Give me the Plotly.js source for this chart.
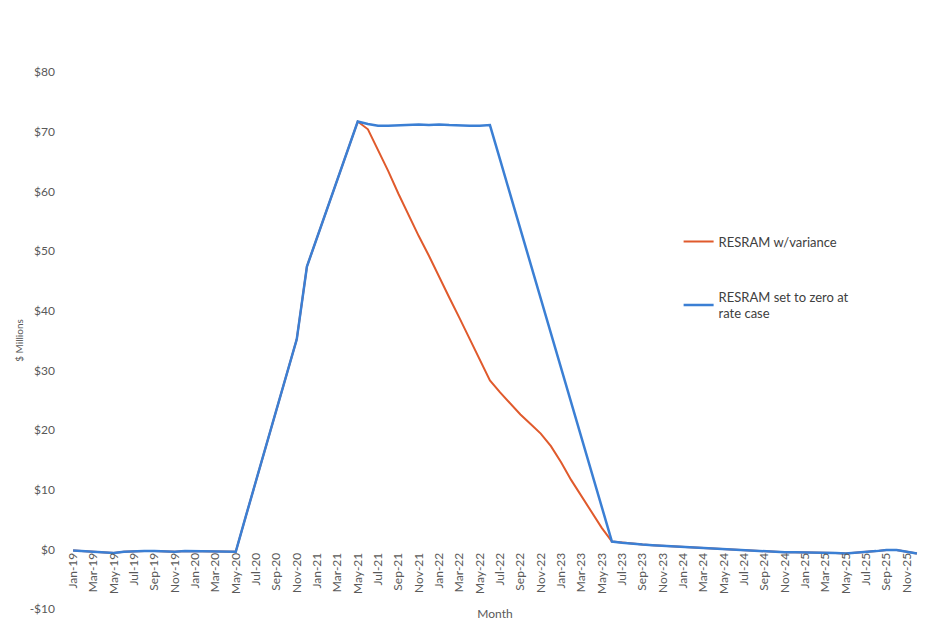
<!DOCTYPE html>
<html>
<head>
<meta charset="utf-8">
<script src="https://cdn.plot.ly/plotly-3.0.1.min.js"></script>
<style>html,body{margin:0;padding:0;background:#fff;}#chart{width:929px;height:628px;}</style>
</head>
<body>
<div id="chart"></div>
<script>
// Category labels (monthly, Jan-19 .. Dec-25)
const monthNames = ["Jan","Feb","Mar","Apr","May","Jun","Jul","Aug","Sep","Oct","Nov","Dec"];
const years = ["19","20","21","22","23","24","25"];
const months = [];
years.forEach(y => monthNames.forEach(m => months.push(m + "-" + y)));

// Series values ($ Millions)
const resramZeroAtRateCase = [
  -0.2,-0.3,-0.4,-0.5,-0.6,-0.4,-0.3,-0.3,-0.3,-0.4,-0.4,-0.3,
  -0.3,-0.4,-0.4,-0.4,-0.4,5.6,11.5,17.4,23.3,29.2,35.2,47.4,
  52.2,57.0,61.9,66.8,71.7,71.3,71.0,71.0,71.1,71.1,71.2,71.1,
  71.2,71.1,71.0,71.0,71.0,71.1,65.3,59.5,53.7,47.9,42.1,36.3,
  30.5,24.7,18.9,13.1,7.3,1.3,1.1,0.9,0.8,0.7,0.6,0.5,
  0.4,0.3,0.2,0.1,0.0,-0.1,-0.2,-0.3,-0.3,-0.4,-0.5,-0.5,
  -0.5,-0.6,-0.6,-0.6,-0.7,-0.6,-0.5,-0.3,-0.1,-0.1,-0.4,-0.7
];
const resramWithVariance = [
  -0.2,-0.3,-0.4,-0.5,-0.6,-0.4,-0.3,-0.3,-0.3,-0.4,-0.4,-0.3,
  -0.3,-0.4,-0.4,-0.4,-0.4,5.6,11.5,17.4,23.3,29.2,35.2,47.4,
  52.2,57.0,61.9,66.8,71.7,70.4,66.9,63.4,59.6,56.0,52.5,49.2,
  45.6,42.2,38.8,35.3,31.9,28.3,26.3,24.4,22.6,21.0,19.4,17.3,
  14.6,11.6,8.9,6.3,3.6,1.3,1.1,0.9,0.8,0.7,0.6,0.5,
  0.4,0.3,0.2,0.1,0.0,-0.1,-0.2,-0.3,-0.3,-0.4,-0.5,-0.5,
  -0.5,-0.6,-0.6,-0.6,-0.7,-0.6,-0.5,-0.3,-0.1,-0.1,-0.4,-0.7
];

// Tick labels
const xTickLabels = months.filter((m, i) => i % 2 === 0);
const yTickVals = [-10,0,10,20,30,40,50,60,70,80];
const yTickText = ["-$10","$0","$10","$20","$30","$40","$50","$60","$70","$80"];

const FONT = "Lato, 'Open Sans', sans-serif";

const traces = [
  {
    x: months, y: resramWithVariance, type: "scatter", mode: "lines",
    name: "RESRAM w/variance", legendgroup: "a",
    line: {color: "#e05a2c", width: 2}
  },
  {
    x: months, y: resramZeroAtRateCase, type: "scatter", mode: "lines",
    name: "RESRAM set to zero at<br>rate case", legendgroup: "b",
    line: {color: "#3b7fd4", width: 2.5}
  }
];

const layout = {
  width: 929, height: 628,
  margin: {l: 68, r: 7, t: 72, b: 19},
  paper_bgcolor: "#ffffff", plot_bgcolor: "#ffffff",
  font: {family: FONT, color: "#595959", size: 12},
  showlegend: true,
  legend: {
    xref: "paper", yref: "paper",
    x: 0.715, y: 0.712, xanchor: "left", yanchor: "top",
    bgcolor: "rgba(0,0,0,0)", tracegroupgap: 35,
    font: {family: FONT, size: 13, color: "#404040"}
  },
  xaxis: {
    type: "category", categoryarray: months, categoryorder: "array",
    range: [-0.5, 83.5],
    anchor: "free", position: 10/90,
    tickvals: xTickLabels, ticktext: xTickLabels,
    tickangle: -90, tickfont: {size: 12, color: "#595959"},
    showgrid: false, zeroline: false, showline: false, ticks: "",
    automargin: false,
    title: {text: "Month", font: {size: 12, color: "#595959"}, standoff: 16}
  },
  yaxis: {
    range: [-10, 80], automargin: false,
    tickvals: yTickVals, ticktext: yTickText,
    tickfont: {size: 12, color: "#595959"},
    ticklabelstandoff: 12,
    showgrid: false, zeroline: false, showline: false, ticks: "",
    title: {text: "$ Millions", font: {size: 10, color: "#595959"}, standoff: 4}
  }
};

Plotly.newPlot("chart", traces, layout, {displayModeBar: false, staticPlot: true});
</script>
</body>
</html>
